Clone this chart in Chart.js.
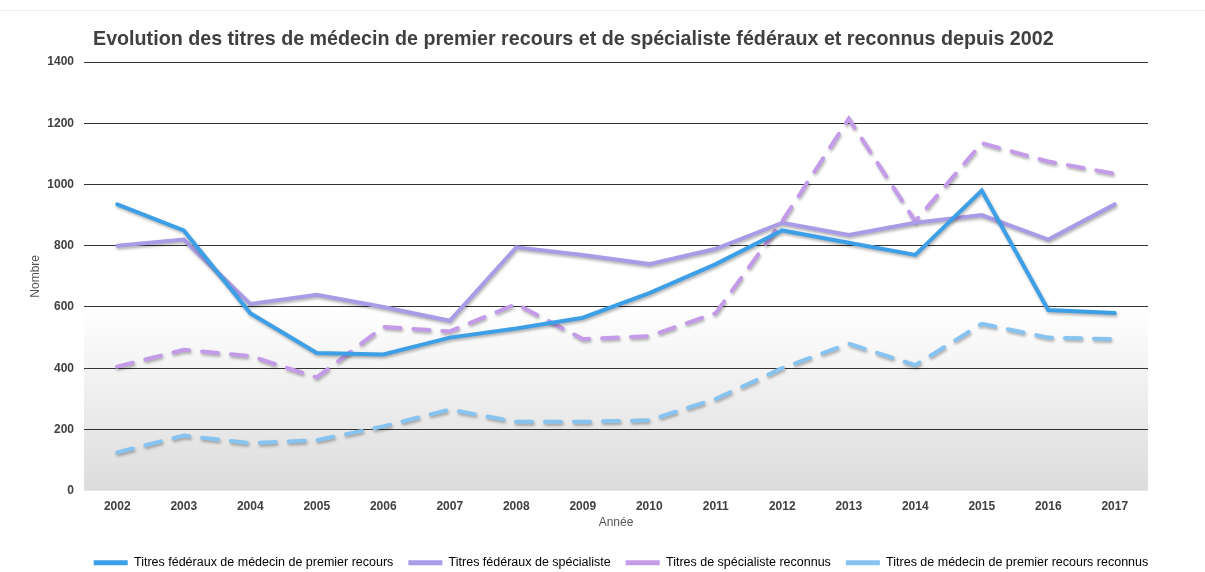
<!DOCTYPE html>
<html>
<head>
<meta charset="utf-8">
<script src="https://cdn.jsdelivr.net/npm/chart.js@4"></script>
<style>
  html, body { margin: 0; padding: 0; background: #fff; }
  #wrap { width: 1205px; height: 572px; position: relative; }
</style>
</head>
<body>
<div id="wrap"><canvas id="chart"></canvas></div>
<script>
const years = ["2002","2003","2004","2005","2006","2007","2008","2009","2010","2011","2012","2013","2014","2015","2016","2017"];
const premierFederaux = [935, 850, 580, 450, 445, 500, 530, 565, 645, 740, 850, 810, 770, 980, 590, 580];
const specialisteFederaux = [800, 820, 610, 640, 600, 555, 795, 770, 740, 790, 875, 835, 875, 900, 820, 935];
const specialisteReconnus = [405, 460, 440, 370, 535, 520, 610, 495, 505, 580, 880, 1215, 880, 1135, 1075, 1035];
const premierReconnus = [125, 180, 155, 165, 210, 265, 225, 225, 230, 300, 400, 480, 410, 545, 500, 495];
const yTicks = [0, 200, 400, 600, 800, 1000, 1200, 1400];

const titleText = "Evolution des titres de médecin de premier recours et de spécialiste fédéraux et reconnus depuis 2002";

// grey gradient below 600, and the title drawn at its own spot
const bgPlugin = {
  id: "bg",
  afterLayout(chart) {
    // legend sits a bit right of centre and lower in the original
    if (chart.legend) {
      chart.legend.left += 33;
      chart.legend.right += 33;
      chart.legend.top += 7;
      chart.legend.bottom += 7;
    }
  },
  beforeDraw(chart) {
    const { ctx, chartArea, scales } = chart;
    const top = scales.y.getPixelForValue(600);
    const bottom = scales.y.getPixelForValue(0);
    const g = ctx.createLinearGradient(0, top, 0, bottom);
    g.addColorStop(0, "#ffffff");
    g.addColorStop(1, "#dcdcdc");
    ctx.save();
    ctx.fillStyle = g;
    ctx.fillRect(chartArea.left, top, chartArea.right - chartArea.left, bottom - top);
    ctx.strokeStyle = "#eeeeee";
    ctx.beginPath();
    ctx.moveTo(0, 10.5);
    ctx.lineTo(chart.width, 10.5);
    ctx.stroke();
    ctx.fillStyle = "#404040";
    ctx.font = "bold 19.7px 'Liberation Sans', Arial, sans-serif";
    ctx.textBaseline = "middle";
    ctx.fillText(titleText, 93, 40);
    ctx.restore();
  },
  beforeDatasetDraw(chart) {
    const ctx = chart.ctx;
    ctx.save();
    ctx.shadowColor = "rgba(0,0,0,0.3)";
    ctx.shadowBlur = 3;
    ctx.shadowOffsetX = 1;
    ctx.shadowOffsetY = 2;
  },
  afterDatasetDraw(chart) {
    chart.ctx.restore();
  }
};

function line(label, data, color, dash) {
  return {
    label, data,
    borderColor: color,
    backgroundColor: color,
    borderWidth: 4,
    borderDash: dash,
    borderCapStyle: "round",
    pointRadius: 0,
    tension: 0,
    fill: false
  };
}

const font = "'Liberation Sans', Arial, sans-serif";

new Chart(document.getElementById("chart"), {
  type: "line",
  data: {
    labels: years,
    datasets: [
      line("Titres fédéraux de médecin de premier recours", premierFederaux, "#3d9fe6", []),
      line("Titres fédéraux de spécialiste", specialisteFederaux, "#a99be6", []),
      line("Titres de spécialiste reconnus", specialisteReconnus, "#c39be8", [16, 13]),
      line("Titres de médecin de premier recours reconnus", premierReconnus, "#86c3f0", [16, 13])
    ]
  },
  options: {
    responsive: true,
    maintainAspectRatio: false,
    animation: false,
    layout: { padding: { top: 62, right: 57, left: 28, bottom: 0 } },
    plugins: {
      title: { display: false },
      tooltip: { enabled: false },
      legend: {
        position: "bottom",
        labels: {
          boxWidth: 34,
          boxHeight: 5,
          padding: 15,
          color: "#404040",
          font: { family: font, size: 12.5 },
          generateLabels(chart) {
            return chart.data.datasets.map((ds, i) => ({
              text: ds.label,
              fillStyle: ds.borderColor,
              strokeStyle: ds.borderColor,
              lineWidth: 0,
              lineDash: [],
              datasetIndex: i
            }));
          }
        }
      }
    },
    scales: {
      x: {
        offset: true,
        grid: { display: false },
        border: { display: false },
        ticks: { color: "#404040", font: { family: font, size: 12, weight: "bold" }, padding: 1 },
        title: { display: true, text: "Année", color: "#555", font: { family: font, size: 12 }, padding: { top: 0, bottom: 5 } }
      },
      y: {
        min: 0,
        max: 1400,
        afterBuildTicks(scale) { scale.ticks = yTicks.map(v => ({ value: v })); },
        afterFit(scale) { scale.width = 56; },
        grid: {
          color: ctx => ctx.tick && ctx.tick.value === 0 ? "rgba(0,0,0,0)" : "#333",
          drawTicks: false
        },
        border: { display: false },
        ticks: { color: "#404040", font: { family: font, size: 12, weight: "bold" }, padding: 10, callback: v => String(v) },
        title: { display: true, text: "Nombre", color: "#555", font: { family: font, size: 12 }, padding: 0 }
      }
    }
  },
  plugins: [bgPlugin]
});
</script>
</body>
</html>
